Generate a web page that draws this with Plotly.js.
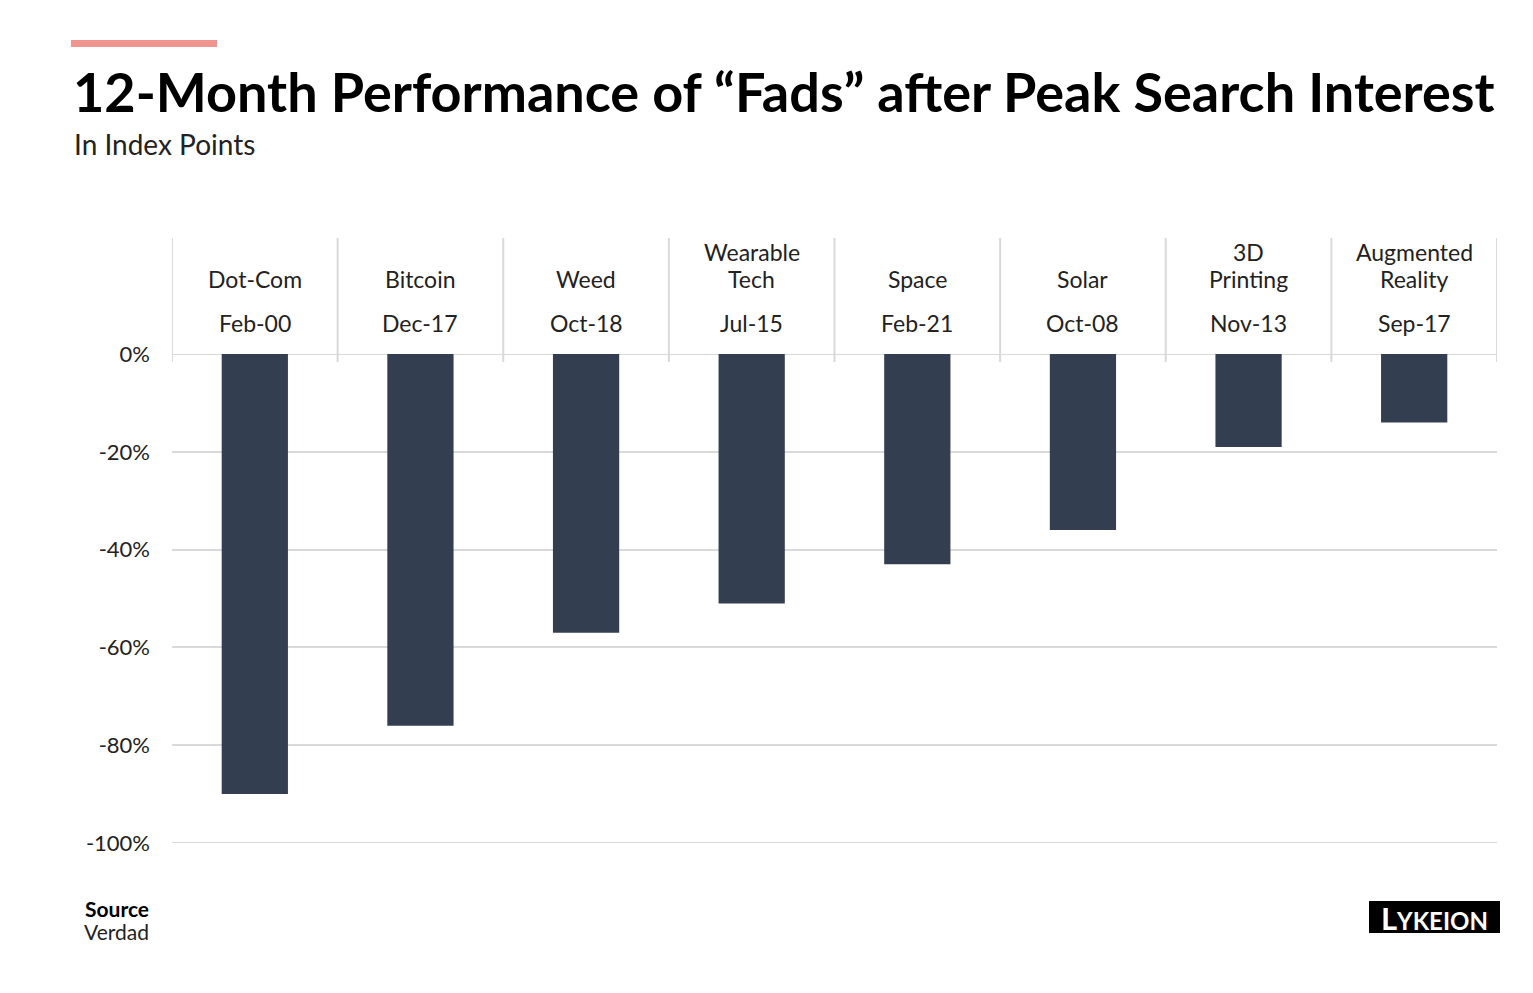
<!DOCTYPE html>
<html>
<head>
<meta charset="utf-8">
<script src="https://cdn.plot.ly/plotly-3.0.1.min.js"></script>
<style>
html,body{margin:0;padding:0;background:#fff;}
#chart{width:1533px;height:993px;}
</style>
</head>
<body>
<div id="chart"></div>
<script>
const categories = ["Dot-Com", "Bitcoin", "Weed", "Wearable<br>Tech", "Space", "Solar", "3D<br>Printing", "Augmented<br>Reality"];
const peakDates = ["Feb-00", "Dec-17", "Oct-18", "Jul-15", "Feb-21", "Oct-08", "Nov-13", "Sep-17"];
const values = [-90, -76, -57, -51, -43, -36, -19, -14];
const tickValues = [0, -20, -40, -60, -80, -100];
const tickLabels = ["0%", "-20%", "-40%", "-60%", "-80%", "-100%"];

const FONT = "Lato, 'Open Sans', sans-serif";
const L = 172, R = 1497, T = 354, B = 843;
const W = R - L, H = B - T;
const px = x => (x - L) / W;
const py = y => (B - y) / H;

const xIdx = categories.map((c, i) => i);

const trace = {
  type: "bar",
  x: xIdx,
  y: values,
  marker: {color: "#343e51"},
  hoverinfo: "skip"
};

const annotations = [];
categories.forEach((c, i) => {
  const lines = c.split("<br>");
  lines.forEach((ln, k) => {
    const fromBottom = lines.length - 1 - k;
    annotations.push({
      x: i, xref: "x", y: py(279 - 27 * fromBottom), yref: "paper",
      text: ln, showarrow: false, xanchor: "center", yanchor: "middle",
      font: {family: FONT, size: 23, color: "#222"}
    });
  });
  annotations.push({
    x: i, xref: "x", y: py(323), yref: "paper",
    text: peakDates[i], showarrow: false, xanchor: "center", yanchor: "middle",
    font: {family: FONT, size: 23, color: "#222"}
  });
});

// Title & subtitle
annotations.push({
  x: px(71), xref: "paper", y: py(91), yref: "paper",
  text: "<b>12-Month Performance of “Fads” after Peak Search Interest</b>",
  showarrow: false, xanchor: "left", yanchor: "middle",
  font: {family: FONT, size: 54, color: "#000", weight: 900}
});
annotations.push({
  x: px(72), xref: "paper", y: py(144), yref: "paper",
  text: "In Index Points", showarrow: false, xanchor: "left", yanchor: "middle",
  font: {family: FONT, size: 28, color: "#222"}
});
// Source
annotations.push({
  x: px(151), xref: "paper", y: py(908), yref: "paper",
  text: "<b>Source</b>", showarrow: false, xanchor: "right", yanchor: "middle",
  font: {family: FONT, size: 21, color: "#000"}
});
annotations.push({
  x: px(151), xref: "paper", y: py(931), yref: "paper",
  text: "Verdad", showarrow: false, xanchor: "right", yanchor: "middle",
  font: {family: FONT, size: 21, color: "#222"}
});
// Logo
annotations.push({
  x: px(1434.5), xref: "paper", y: py(918), yref: "paper",
  text: "<b><span style='font-size:31px'>L</span>YKEION</b>",
  showarrow: false, xanchor: "center", yanchor: "middle",
  font: {family: FONT, size: 24, color: "#fff"}
});

const shapes = [];
// pink accent bar
shapes.push({type: "rect", xref: "paper", yref: "paper",
  x0: px(71), x1: px(217), y0: py(47), y1: py(40),
  fillcolor: "#f0948f", line: {width: 0}});
// logo box
shapes.push({type: "rect", xref: "paper", yref: "paper",
  x0: px(1369), x1: px(1500), y0: py(933), y1: py(901),
  fillcolor: "#000", line: {width: 0}});
// column separators
for (let i = 0; i <= categories.length; i++) {
  shapes.push({type: "line", xref: "x", yref: "paper",
    x0: i - 0.5, x1: i - 0.5, y0: py(362), y1: py(238),
    line: {color: "#d9d9d9", width: 2}, layer: "below"});
}
// edge gridlines (0% and -100%) that Plotly hides at the range boundaries
[tickValues[0], tickValues[tickValues.length - 1]].forEach(v => {
  shapes.push({type: "line", xref: "paper", yref: "y",
    x0: 0, x1: 1, y0: v, y1: v,
    line: {color: "#d9d9d9", width: 2}, layer: "below"});
});

const layout = {
  width: 1533, height: 993,
  margin: {l: L, r: 1533 - R, t: T, b: 993 - B, pad: 0},
  paper_bgcolor: "#fff", plot_bgcolor: "#fff",
  showlegend: false,
  bargap: 0.6,
  xaxis: {
    range: [-0.5, categories.length - 0.5],
    showticklabels: false, showgrid: false, zeroline: false,
    showline: false, ticks: "", fixedrange: true
  },
  yaxis: {
    range: [-100, 0],
    tickvals: tickValues, ticktext: tickLabels,
    showgrid: true, gridcolor: "#d9d9d9", gridwidth: 2,
    zeroline: false, showline: false, ticks: "",
    ticklabelstandoff: 21,
    tickfont: {family: FONT, size: 22, color: "#222"},
    fixedrange: true
  },
  annotations: annotations,
  shapes: shapes
};

Plotly.newPlot("chart", [trace], layout, {displayModeBar: false, staticPlot: true});
</script>
</body>
</html>
